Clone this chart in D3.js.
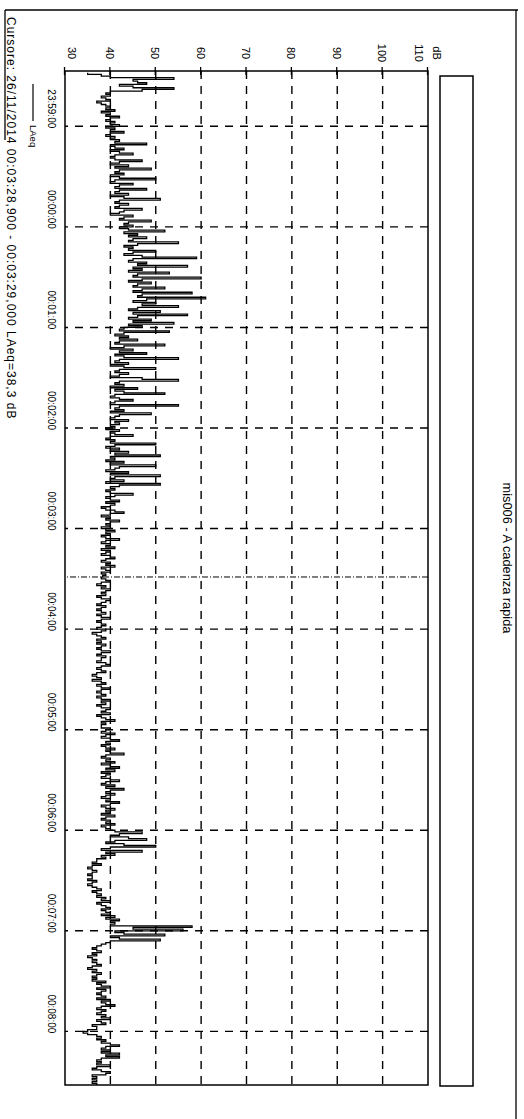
<!DOCTYPE html>
<html>
<head>
<meta charset="utf-8">
<script src="https://cdn.jsdelivr.net/npm/d3@7"></script>
<style>
  html, body { margin: 0; padding: 0; background: #fff; }
  svg { display: block; }
  text { font-family: "Liberation Sans", Arial, sans-serif; fill: #000; }
</style>
</head>
<body>
<svg id="chart" width="524" height="1119"></svg>
<script>
// ---- data -------------------------------------------------------------
const title = "mis006 - A cadenza rapida";
const unitLabel = "dB";
const legendLabel = "LAeq";
const cursorText = "Cursore: 26/11/2014 00:03:28,900 - 00:03:29,000 LAeq=38,3 dB";
const cursorTime = "00:03:28.9";

const domainStart = "23:58:27";
const domainEnd = "00:08:32";
const firstSample = "23:58:28";   // one LAeq value per second from here

const dbTicks = [30, 40, 50, 60, 70, 80, 90, 100, 110];
const timeTicks = ["23:59:00", "00:00:00", "00:01:00", "00:02:00", "00:03:00",
                   "00:04:00", "00:05:00", "00:06:00", "00:07:00", "00:08:00"];

// LAeq, dB, one row = 10 s
const laeq = [
  35,38,40,54,45,46,48,42,45,54,
  47,40,39,40,38,39,40,37,38,39,
  40,39,41,38,40,39,42,40,39,41,
  40,42,39,41,40,43,40,39,41,40,
  42,41,48,40,41,43,40,42,45,41,
  40,41,47,42,40,44,41,49,42,41,
  43,40,42,50,41,40,45,42,41,48,
  42,41,44,40,43,51,42,41,44,42,
  41,47,43,42,40,45,43,42,49,44,
  43,45,42,44,52,43,46,44,48,45,
  44,55,46,43,45,44,50,45,43,47,
  59,45,44,48,46,57,45,47,44,53,
  46,45,60,47,44,49,46,45,52,47,
  45,58,47,46,61,48,45,50,47,55,
  46,44,51,45,57,46,44,49,45,54,
  44,47,43,42,53,43,41,44,42,46,
  42,41,52,43,40,45,42,48,41,43,
  55,42,41,44,40,43,50,42,41,44,
  42,40,47,55,42,41,43,40,46,41,
  43,52,41,40,42,45,41,40,55,42,
  41,43,40,49,42,41,40,44,41,42,
  40,41,39,42,40,41,45,40,39,41,
  40,50,41,39,42,40,44,41,51,40,
  41,39,43,40,50,42,41,39,44,40,
  51,41,40,43,39,51,42,40,41,39,
  40,45,41,39,40,42,39,41,40,38,
  39,41,43,40,38,40,39,42,40,39,
  40,38,39,41,39,40,38,39,42,39,
  38,40,39,41,38,40,39,38,40,41,
  39,38,40,39,41,38,39,40,38,39,
  38.3,38,39,40,38,37,39,38,40,39,
  38,39,37,38,40,39,38,37,39,38,
  37,38,39,37,38,40,38,37,38,39,
  38,37,39,38,36,37,38,39,37,38,
  37,39,38,37,38,40,38,37,39,38,
  38,37,39,40,38,37,38,39,37,36,
  37,38,36,38,39,37,38,40,38,37,
  38,39,37,38,40,38,39,37,38,40,
  39,38,40,37,38,39,41,38,39,38,
  38,40,39,38,41,39,38,40,42,39,
  40,38,39,41,39,40,43,39,38,40,
  39,41,38,40,42,39,41,38,40,39,
  38,40,42,39,38,41,39,43,40,39,
  41,39,38,40,39,42,40,38,39,41,
  39,40,38,41,39,38,40,39,41,38,
  39,40,41,47,42,40,44,48,41,39,
  43,50,40,38,47,39,41,38,39,37,
  37,36,38,36,35,36,37,36,35,36,
  36,35,37,36,35,36,37,38,36,37,
  38,37,39,38,40,37,38,39,40,38,
  39,40,38,41,39,42,40,41,40,58,
  45,56,41,43,52,40,42,51,40,39,
  38,37,36,37,38,36,37,35,36,37,
  36,37,38,36,35,37,36,38,37,36,
  37,36,39,37,38,40,37,39,38,37,
  38,39,37,40,38,39,41,38,37,39,
  38,37,39,38,40,37,38,39,36,37,
  37,35,34,35,37,38,37,39,38,40,
  42,39,38,40,38,42,39,42,38,37,
  38,37,40,37,36,38,40,39,36,37,
  36,37,36,37
];

// ---- helpers ----------------------------------------------------------
// Recording runs across midnight 25/11 -> 26/11/2014
function toDate(hms) {
  const [h, m, s] = hms.split(":").map(Number);
  const day = h >= 12 ? 25 : 26;
  const sec = Math.floor(s), ms = Math.round((s - sec) * 1000);
  return new Date(2014, 10, day, h, m, sec, ms);
}

// ---- layout (drawn in landscape, then turned a quarter clockwise) ----
const W = 1119, H = 524;
const plot = { left: 71, right: 1085, top: 96, bottom: 459 };

const svg = d3.select("#chart");
const g = svg.append("g").attr("transform", `translate(${H},0) rotate(90)`);

const x = d3.scaleTime()
  .domain([toDate(domainStart), toDate(domainEnd)])
  .range([plot.left, plot.right]);
const y = d3.scaleLinear()
  .domain([dbTicks[0], dbTicks[dbTicks.length - 1]])
  .range([plot.bottom, plot.top]);

// page frame
g.append("line").attr("x1", 10).attr("x2", 10).attr("y1", 6).attr("y2", 519)
  .attr("stroke", "#000").attr("stroke-width", 1.3);
g.append("line").attr("x1", 10).attr("x2", W).attr("y1", 8).attr("y2", 8)
  .attr("stroke", "#000").attr("stroke-width", 1.3);
g.append("line").attr("x1", 10).attr("x2", 140).attr("y1", 519).attr("y2", 519)
  .attr("stroke", "#000").attr("stroke-width", 1.3);

// title
g.append("text").attr("x", 558).attr("y", 17)
  .attr("text-anchor", "middle").attr("dominant-baseline", "central")
  .style("font-size", "12.8px").text(title);

// empty band under the title
g.append("rect").attr("x", 76).attr("y", 51).attr("width", 1010).attr("height", 33)
  .attr("fill", "none").attr("stroke", "#000").attr("stroke-width", 1.5);

// grid
const dash = "8,7";
g.append("g").selectAll("line")
  .data(dbTicks.slice(1, -1)).join("line")
  .attr("x1", plot.left).attr("x2", plot.right)
  .attr("y1", d => y(d)).attr("y2", d => y(d))
  .attr("stroke", "#000").attr("stroke-width", 1.4).attr("stroke-dasharray", dash);
g.append("g").selectAll("line")
  .data(timeTicks).join("line")
  .attr("x1", d => x(toDate(d))).attr("x2", d => x(toDate(d)))
  .attr("y1", plot.top).attr("y2", plot.bottom)
  .attr("stroke", "#000").attr("stroke-width", 1.4).attr("stroke-dasharray", dash);

// dB axis
const yAxis = g.append("g").attr("transform", `translate(${plot.left},0)`)
  .call(d3.axisLeft(y).tickValues(dbTicks).tickSize(4).tickFormat(d3.format("d")));
yAxis.select(".domain").remove();
yAxis.selectAll(".tick line").attr("x1", -4).attr("x2", 4).attr("stroke-width", 1.3);
yAxis.selectAll(".tick text")
  .attr("x", 53 - plot.left).attr("dy", null)
  .attr("text-anchor", "middle").attr("dominant-baseline", "central")
  .attr("transform", (d, i, n) => i === 0 ? "translate(0,-7)" : i === n.length - 1 ? "translate(0,9)" : null)
  .style("font-size", "11px").style("font-family", null);
g.append("text").attr("x", 53).attr("y", 87)
  .attr("text-anchor", "middle").attr("dominant-baseline", "central")
  .style("font-size", "11px").text(unitLabel);

// time axis labels
const xAxis = g.append("g").attr("transform", `translate(0,${plot.bottom})`)
  .call(d3.axisBottom(x).tickValues(timeTicks.map(toDate)).tickSize(0)
    .tickFormat(d3.timeFormat("%H:%M:%S")));
xAxis.select(".domain").remove();
xAxis.selectAll(".tick text")
  .attr("y", 14).attr("dy", null).attr("dominant-baseline", "central")
  .attr("text-anchor", "middle").attr("dx", -18)
  .style("font-size", "10px").style("font-family", null);

// LAeq trace (step line, one value per second)
const t0 = toDate(firstSample).getTime();
const pts = laeq.map((v, i) => [new Date(t0 + i * 1000), v]);
pts.push([new Date(t0 + laeq.length * 1000), laeq[laeq.length - 1]]);
const line = d3.line().x(d => x(d[0])).y(d => y(d[1])).curve(d3.curveStepAfter);
g.append("path").datum(pts).attr("d", line)
  .attr("fill", "none").attr("stroke", "#000").attr("stroke-width", 1.3);

// cursor
const cx = x(toDate(cursorTime));
g.append("line").attr("x1", cx).attr("x2", cx).attr("y1", plot.top).attr("y2", plot.bottom)
  .attr("stroke", "#000").attr("stroke-width", 1).attr("stroke-dasharray", "6,2,1,2");

// plot frame
g.append("rect").attr("x", plot.left).attr("y", plot.top)
  .attr("width", plot.right - plot.left).attr("height", plot.bottom - plot.top)
  .attr("fill", "none").attr("stroke", "#000").attr("stroke-width", 1.5);

// legend
g.append("line").attr("x1", 84).attr("x2", 121).attr("y1", 491).attr("y2", 491)
  .attr("stroke", "#000").attr("stroke-width", 1.2);
g.append("text").attr("x", 125).attr("y", 491).attr("dominant-baseline", "central")
  .style("font-size", "9.5px").text(legendLabel);

// cursor readout
g.append("text").attr("x", 17).attr("y", 513).attr("dominant-baseline", "central")
  .style("font-size", "12px").style("letter-spacing", "1px").text(cursorText);
</script>
</body>
</html>
